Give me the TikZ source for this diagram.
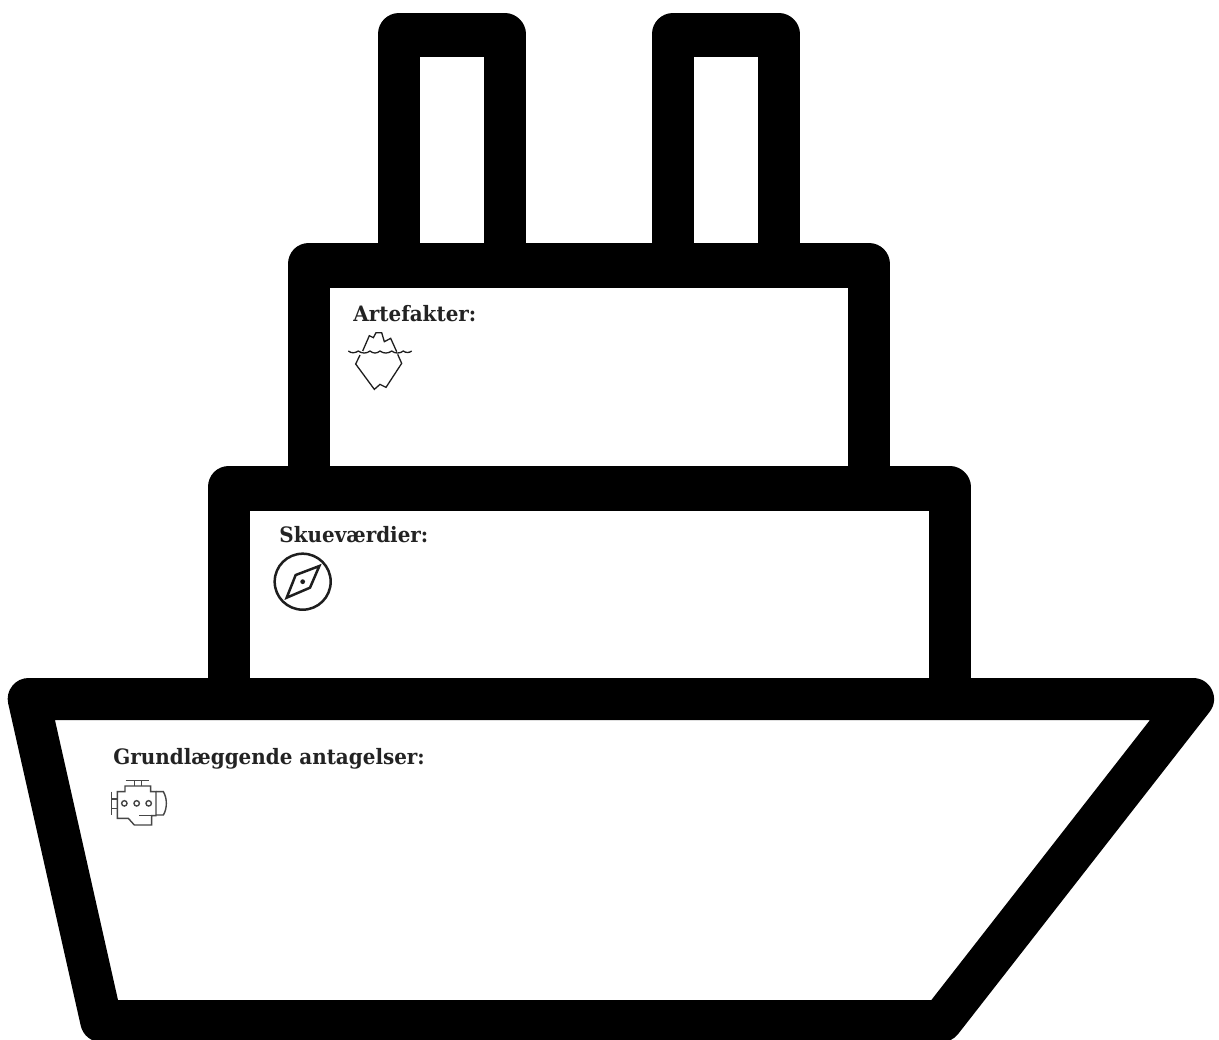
\documentclass[tikz,border=0pt]{standalone}
\usepackage{fontspec}
\setmainfont{DejaVu Serif}[FakeStretch=0.94]
\usepackage{xcolor}
\usetikzlibrary{positioning}
\definecolor{iconink}{RGB}{30,30,30}
\definecolor{engineink}{RGB}{70,70,70}
\definecolor{labelink}{RGB}{35,35,35}
\tikzset{
  hullline/.style={draw=black,line width=21pt,line join=round},
  deckfill/.style={hullline,fill=white},
  deckbar/.style={draw=black,line width=2pt},
  lab/.style={font=\fontsize{10.6}{12}\selectfont\bfseries,text=labelink,
    anchor=base west,inner sep=0pt},
  bergline/.style={draw=iconink,line width=0.65pt,line join=miter},
  compassline/.style={draw=iconink,line width=1.25pt,line join=miter},
  engineline/.style={draw=engineink,line width=0.7pt}
}
\begin{document}
\begin{tikzpicture}[x=0.5pt,y=-0.5pt]
  \useasboundingbox (0,0) rectangle (1219,1039);
  % funnels
  \draw[deckfill] (399,265)--(399,34)--(504.5,34)--(504.5,265);
  \draw[deckbar] (415,55)--(490,55);
  \draw[deckfill] (673,265)--(673,34)--(778.5,34)--(778.5,265);
  \draw[deckbar] (690,55)--(765,55);
  % decks
  \draw[deckfill] (308.5,488)--(308.5,264)--(869,264)--(869,488);
  \draw[deckbar] (325,286)--(855,286);
  \draw[deckfill] (228.5,699)--(228.5,487)--(949.5,487)--(949.5,699);
  \draw[deckbar] (245,509)--(935,509);
  % hull
  \draw[deckfill] (28.7,699)--(1193,699)--(941.6,1021)--(101.2,1021)--cycle;
  % labels
  \node[lab] (artefakter) at (353,321) {Artefakter:};
  \node[lab] (skuev) at (279,542) {Skueværdier:};
  \node[lab] (grund) at (113,764) {Grundlæggende antagelser:};
  % iceberg
  \begin{scope}[shift={(340,295)},x=0.1667pt,y=-0.1667pt]
    \draw[bergline] (25,168) .. controls (35,176) and (45,174) .. (55,168)
      .. controls (65,176) and (80,176) .. (90,168)
      .. controls (100,176) and (110,176) .. (120,168)
      .. controls (130,176) and (145,176) .. (155,168)
      .. controls (165,176) and (180,176) .. (190,168)
      .. controls (198,174) and (207,174) .. (215,168);
    \draw[bergline] (68,168)--(88,122)--(100,128)--(108,113)--(125,113)--(133,140)--(152,130)--(170,170);
    \draw[bergline] (60,180)--(47,207)--(103,283)--(120,268)--(138,277)--(185,205)--(173,178);
  \end{scope}
  % compass
  \begin{scope}[shift={(265,520)},x=0.1667pt,y=-0.1667pt]
    \draw[compassline] (113,185) circle[radius=14pt];
    \draw[compassline] (163,138)--(135,203)--(65,233)--(92,165)--cycle;
    \fill[iconink] (113,185) circle[radius=1.2pt];
  \end{scope}
  % engine
  \begin{scope}[shift={(100,740)},x=0.1667pt,y=-0.1667pt]
    \draw[engineline] (77,122)--(148,122) (103,122)--(103,138) (125,122)--(125,138);
    \draw[engineline] (75,155)--(75,138)--(152,138)--(152,155)--(168,155)--(168,227)--(155,227)--(155,255)--(103,255)--(85,235)--(52,235)--(52,155)--cycle;
    \draw[engineline] (155,227)--(118,227);
    \draw[engineline] (168,155)--(190,155) .. controls (202,175) and (202,205) .. (190,225)--(168,225);
    \draw[engineline] (35,155)--(35,225) (35,177)--(52,177) (35,205)--(52,205);
    \foreach \cx in {73,110,146}
      \draw[engineline] (\cx,190) circle[radius=1.35pt];
  \end{scope}
\end{tikzpicture}
\end{document}
